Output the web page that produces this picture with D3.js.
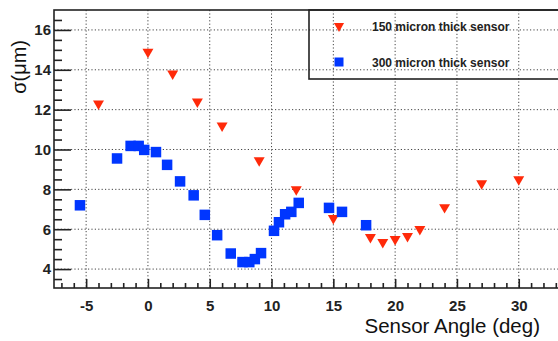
<!DOCTYPE html>
<html>
<head>
<meta charset="utf-8">
<script src="https://cdn.jsdelivr.net/npm/d3@7"></script>
<style>
  body { margin: 0; background: #fff; }
  svg { display: block; font-family: "Liberation Sans", Arial, sans-serif; }
</style>
</head>
<body>
<div id="chart"></div>
<script>
// 150 micron sensor (red down triangles)
const thin_angle = [-4, 0, 2, 4, 6, 9, 12, 15, 18, 19, 20, 21, 22, 24, 27, 30];
const thin_sigma = [12.3, 14.9, 13.8, 12.4, 11.2, 9.45, 8.0, 6.55, 5.6, 5.35, 5.5, 5.65, 6.0, 7.1, 8.3, 8.5];

// 300 micron sensor (blue squares)
const thick_angle = [-5.5, -2.5, -1.4, -0.75, -0.3, 0.65, 1.55, 2.6, 3.7, 4.6, 5.6, 6.7, 7.65, 8.2, 8.65, 9.15,
                     10.2, 10.6, 11.1, 11.6, 12.2, 14.65, 15.7, 17.65];
const thick_sigma = [7.2, 9.55, 10.18, 10.18, 9.98, 9.87, 9.23, 8.4, 7.7, 6.72, 5.7, 4.78, 4.35, 4.35, 4.5, 4.8,
                     5.92, 6.35, 6.75, 6.87, 7.32, 7.07, 6.87, 6.2];

const xTicks = [-5, 0, 5, 10, 15, 20, 25, 30];
const yTicks = [4, 6, 8, 10, 12, 14, 16];
const legendLabels = ["150 micron thick sensor", "300 micron thick sensor"];

const W = 558, H = 341;
const m = { left: 54, right: 562, top: 10, bottom: 288 };
const red = "#ff2a0a", blue = "#0036ff";

const svg = d3.select("#chart").append("svg")
    .attr("width", W)
    .attr("height", H);

const x = d3.scaleLinear().domain([-7.6, 33.5]).range([m.left, m.right]);
const y = d3.scaleLinear().domain([3.05, 17]).range([m.bottom, m.top]);

// dotted grid
svg.append("g")
    .selectAll("line")
    .data(xTicks)
    .enter().append("line")
    .attr("x1", d => x(d)).attr("x2", d => x(d))
    .attr("y1", m.top).attr("y2", m.bottom)
    .attr("stroke", "#444").attr("stroke-width", 1)
    .attr("stroke-dasharray", "1.2,2.2");

svg.append("g")
    .selectAll("line")
    .data(yTicks)
    .enter().append("line")
    .attr("x1", m.left).attr("x2", m.right)
    .attr("y1", d => y(d)).attr("y2", d => y(d))
    .attr("stroke", "#444").attr("stroke-width", 1)
    .attr("stroke-dasharray", "1.2,2.2");

// frame
svg.append("rect")
    .attr("x", m.left).attr("y", m.top)
    .attr("width", m.right - m.left).attr("height", m.bottom - m.top)
    .attr("fill", "none").attr("stroke", "#222").attr("stroke-width", 1.6);

// minor / major ticks drawn inside the frame (ROOT style)
const xMinor = d3.range(-7, 34, 1).filter(v => v % 5 !== 0);
const yMinor = d3.range(3.5, 17, 0.5).filter(v => v % 2 !== 0);

const fmt = d => String(d);   // plain hyphen for negatives, like ROOT
const xAxisMajor = d3.axisBottom(x).tickValues(xTicks).tickSize(-9).tickFormat(fmt).tickPadding(12);
const xAxisMinor = d3.axisBottom(x).tickValues(xMinor).tickSize(-5).tickFormat("");
const yAxisMajor = d3.axisLeft(y).tickValues(yTicks).tickSize(-17).tickFormat(fmt).tickPadding(21);
const yAxisMinor = d3.axisLeft(y).tickValues(yMinor).tickSize(-8).tickFormat("");

function styleAxis(g) {
    g.select(".domain").remove();
    g.selectAll(".tick line").attr("stroke", "#222").attr("stroke-width", 1.6);
    g.selectAll(".tick text")
        .attr("fill", "#222")
        .attr("font-size", "15px")
        .attr("font-weight", "bold")
        .attr("font-family", "Liberation Sans, Arial, sans-serif");
}

svg.append("g").attr("transform", `translate(0,${m.bottom})`).call(xAxisMinor).call(styleAxis);
svg.append("g").attr("transform", `translate(0,${m.bottom})`).call(xAxisMajor).call(styleAxis);
svg.append("g").attr("transform", `translate(${m.left},0)`).call(yAxisMinor).call(styleAxis);
svg.append("g").attr("transform", `translate(${m.left},0)`).call(yAxisMajor).call(styleAxis)
    .selectAll(".tick text").attr("dx", "18px");

// markers
const triangle = d3.symbol().type(d3.symbolTriangle).size(52);

svg.append("g")
    .selectAll("path")
    .data(thin_angle.map((a, i) => [a, thin_sigma[i]]))
    .enter().append("path")
    .attr("d", triangle)
    .attr("transform", d => `translate(${x(d[0])},${y(d[1])}) rotate(180)`)
    .attr("fill", red);

const sq = 10.5;
svg.append("g")
    .selectAll("rect")
    .data(thick_angle.map((a, i) => [a, thick_sigma[i]]))
    .enter().append("rect")
    .attr("x", d => x(d[0]) - sq / 2)
    .attr("y", d => y(d[1]) - sq / 2)
    .attr("width", sq).attr("height", sq)
    .attr("fill", blue);

// legend
svg.append("rect")
    .attr("x", 309).attr("y", m.top)
    .attr("width", 300).attr("height", 69)
    .attr("fill", "none").attr("stroke", "#222").attr("stroke-width", 1.6);

const lg = svg.append("g");
lg.append("path")
    .attr("d", d3.symbol().type(d3.symbolTriangle).size(45))
    .attr("transform", "translate(339,26) rotate(180)")
    .attr("fill", red);
lg.append("rect")
    .attr("x", 334.5).attr("y", 57.5).attr("width", 9).attr("height", 9)
    .attr("fill", blue);
lg.selectAll("text")
    .data(legendLabels)
    .enter().append("text")
    .attr("x", 372)
    .attr("y", (d, i) => 31 + i * 36)
    .attr("font-size", "12px")
    .attr("font-weight", "bold")
    .attr("fill", "#222")
    .text(d => d);

// axis titles
svg.append("text")
    .attr("x", 540).attr("y", 333)
    .attr("text-anchor", "end")
    .attr("font-size", "20.5px")
    .attr("fill", "#111")
    .text("Sensor Angle (deg)");

svg.append("text")
    .attr("transform", "translate(26,40) rotate(-90)")
    .attr("text-anchor", "end")
    .attr("font-size", "20px")
    .attr("fill", "#111")
    .text("σ(μm)");
</script>
</body>
</html>
